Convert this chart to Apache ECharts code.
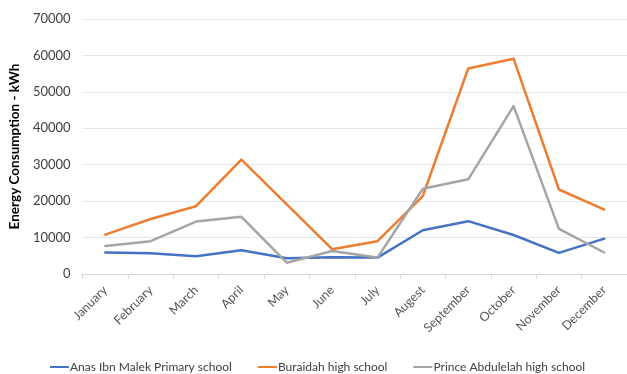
<!DOCTYPE html>
<html>
<head>
<meta charset="utf-8">
<style>
  html, body { margin: 0; padding: 0; background: #ffffff; }
  #chart { width: 627px; height: 374px; }
</style>
<script src="https://cdn.jsdelivr.net/npm/echarts@6/dist/echarts.min.js"></script>
</head>
<body>
<div id="chart"></div>
<script>
// Monthly energy consumption (kWh) for three schools
const months = ['January', 'February', 'March', 'April', 'May', 'June',
  'July', 'Augest', 'September', 'October', 'November', 'December'];
const anasIbnMalek = [5900, 5700, 4900, 6500, 4300, 4600, 4500, 12000, 14500, 10700, 5800, 9700];
const buraidah = [10800, 15100, 18600, 31400, 19100, 6800, 9000, 21400, 56400, 59100, 23200, 17700];
const princeAbdulelah = [7700, 9000, 14400, 15700, 3100, 6300, 4500, 23400, 26000, 46100, 12400, 5900];
const seriesNames = ['Anas Ibn Malek Primary school', 'Buraidah high school', 'Prince Abdulelah high school'];
const yTicks = { min: 0, max: 70000, interval: 10000 };

const FONT = 'Lato, "Noto Sans", sans-serif';
const colors = ['#4472C4', '#ED7D31', '#A5A5A5'];

const chart = echarts.init(document.getElementById('chart'), null, { renderer: 'canvas' });

function lineSeries(name, data, color) {
  return {
    name: name,
    type: 'line',
    data: data,
    symbol: 'none',
    smooth: false,
    lineStyle: { color: color, width: 2.5, cap: 'round', join: 'round' },
    itemStyle: { color: color },
    emphasis: { disabled: true },
    animation: false
  };
}

chart.setOption({
  animation: false,
  color: colors,
  textStyle: { fontFamily: FONT },
  grid: { left: 74, top: 19, width: 561, height: 255, containLabel: false },
  xAxis: {
    type: 'category',
    data: months,
    boundaryGap: true,
    axisLine: { show: true, lineStyle: { color: '#D9D9D9', width: 1 } },
    axisTick: { show: true, alignWithLabel: false, length: 5, lineStyle: { color: '#D9D9D9' } },
    axisLabel: {
      rotate: 45,
      interval: 0,
      margin: 14,
      color: '#595959',
      fontSize: 12.5,
      fontFamily: FONT
    },
    splitLine: { show: false }
  },
  yAxis: {
    type: 'value',
    min: yTicks.min,
    max: yTicks.max,
    interval: yTicks.interval,
    name: 'Energy Consumption - kWh',
    nameLocation: 'middle',
    nameGap: 53,
    nameTextStyle: { color: '#000000', fontSize: 13.5, fontWeight: 'bold', fontFamily: FONT },
    axisLine: { show: false },
    axisTick: { show: false },
    axisLabel: { color: '#404040', fontSize: 13, margin: 12, fontFamily: FONT, formatter: (v) => String(v) },
    splitLine: { show: true, lineStyle: { color: '#E3E6EC', width: 1 } }
  },
  legend: {
    top: 361,
    left: 50,
    width: 577,
    padding: 0,
    itemWidth: 19,
    itemHeight: 2,
    itemGap: 26,
    icon: 'rect',
    textStyle: { color: '#404040', fontSize: 12, fontFamily: FONT, padding: [0, 0, 0, -4] },
    data: seriesNames
  },
  series: [
    lineSeries(seriesNames[0], anasIbnMalek, colors[0]),
    lineSeries(seriesNames[1], buraidah, colors[1]),
    lineSeries(seriesNames[2], princeAbdulelah, colors[2])
  ]
});
</script>
</body>
</html>
